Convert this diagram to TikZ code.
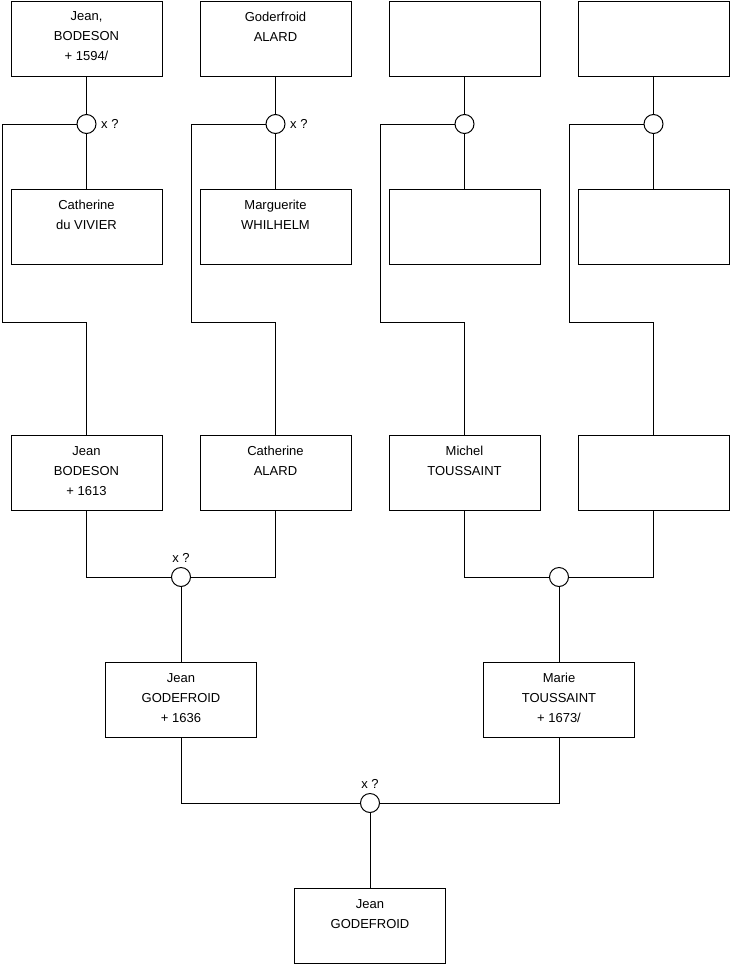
\documentclass[tikz,border=0pt]{standalone}
\usepackage{fontspec}
\setmainfont{Liberation Sans}
\usepackage{tikz}

\tikzset{
  person/.style={draw, line width=0.75pt, minimum width=113.25pt, minimum height=56.25pt, inner sep=0pt},
  who/.style={anchor=north, align=center, inner sep=0pt, yshift=-8.2pt, font=\fontsize{9.75}{15}\selectfont},
  marr/.style={circle, draw, line width=0.75pt, minimum size=14.25pt, inner sep=0pt},
  xq/.style={font=\fontsize{9.75}{12}\selectfont},
  link/.style={line width=0.75pt}
}

\begin{document}
\begin{tikzpicture}[x=0.75pt, y=-0.75pt]
  \useasboundingbox (0,0) rectangle (740,975);
  % Grandparents, fathers
  \node[person, label={[who]north:Jean,\\BODESON\\+ 1594/}] (jeanBa) at (86.5,38.5) {};
  \node[person, label={[who]north:Goderfroid\\ALARD}] (godA) at (275.5,38.5) {};
  \node[person] (anc3) at (464.5,38.5) {};
  \node[person] (anc4) at (653.5,38.5) {};
  % Marriages
  \node[marr, label={[xq]right:x ?}] (mA) at (86.5,124) {};
  \node[marr, label={[xq]right:x ?}] (mB) at (275.5,124) {};
  \node[marr] (mC) at (464.5,124) {};
  \node[marr] (mD) at (653.5,124) {};
  % Grandparents, mothers
  \node[person, label={[who]north:Catherine\\du VIVIER}] (cathV) at (86.5,227) {};
  \node[person, label={[who]north:Marguerite\\WHILHELM}] (margW) at (275.5,227) {};
  \node[person] (anc3w) at (464.5,227) {};
  \node[person] (anc4w) at (653.5,227) {};
  % Bends of the child lines
  \coordinate (kA) at (2.5,322);
  \coordinate (kB) at (191.5,322);
  \coordinate (kC) at (380.5,322);
  \coordinate (kD) at (569.5,322);
  % Parents
  \node[person, label={[who]north:Jean\\BODESON\\+ 1613}] (jeanBb) at (86.5,473) {};
  \node[person, label={[who]north:Catherine\\ALARD}] (cathA) at (275.5,473) {};
  \node[person, label={[who]north:Michel\\TOUSSAINT}] (michT) at (464.5,473) {};
  \node[person] (anc5) at (653.5,473) {};
  \node[marr, label={[xq]above:x ?}] (mE) at (181,577) {};
  \node[marr] (mF) at (559,577) {};
  \node[person, label={[who]north:Jean\\GODEFROID\\+ 1636}] (jeanG) at (181,700) {};
  \node[person, label={[who]north:Marie\\TOUSSAINT\\+ 1673/}] (marieT) at (559,700) {};
  \node[marr, label={[xq]above:x ?}] (mG) at (370,803) {};
  \node[person, label={[who]north:Jean\\GODEFROID}] (jeanGc) at (370,926) {};

  % Links
  \foreach \a/\m/\b/\k/\c in {jeanBa/mA/cathV/kA/jeanBb, godA/mB/margW/kB/cathA,
      anc3/mC/anc3w/kC/michT, anc4/mD/anc4w/kD/anc5} {
    \draw[link] (\a) -- (\m);
    \draw[link] (\m) -- (\b);
    \draw[link] (\m.west) -| (\k) -| (\c);
  }
  \draw[link] (jeanBb) |- (mE);
  \draw[link] (cathA) |- (mE);
  \draw[link] (michT) |- (mF);
  \draw[link] (anc5) |- (mF);
  \draw[link] (mE) -- (jeanG);
  \draw[link] (mF) -- (marieT);
  \draw[link] (jeanG) |- (mG);
  \draw[link] (marieT) |- (mG);
  \draw[link] (mG) -- (jeanGc);
\end{tikzpicture}
\end{document}
